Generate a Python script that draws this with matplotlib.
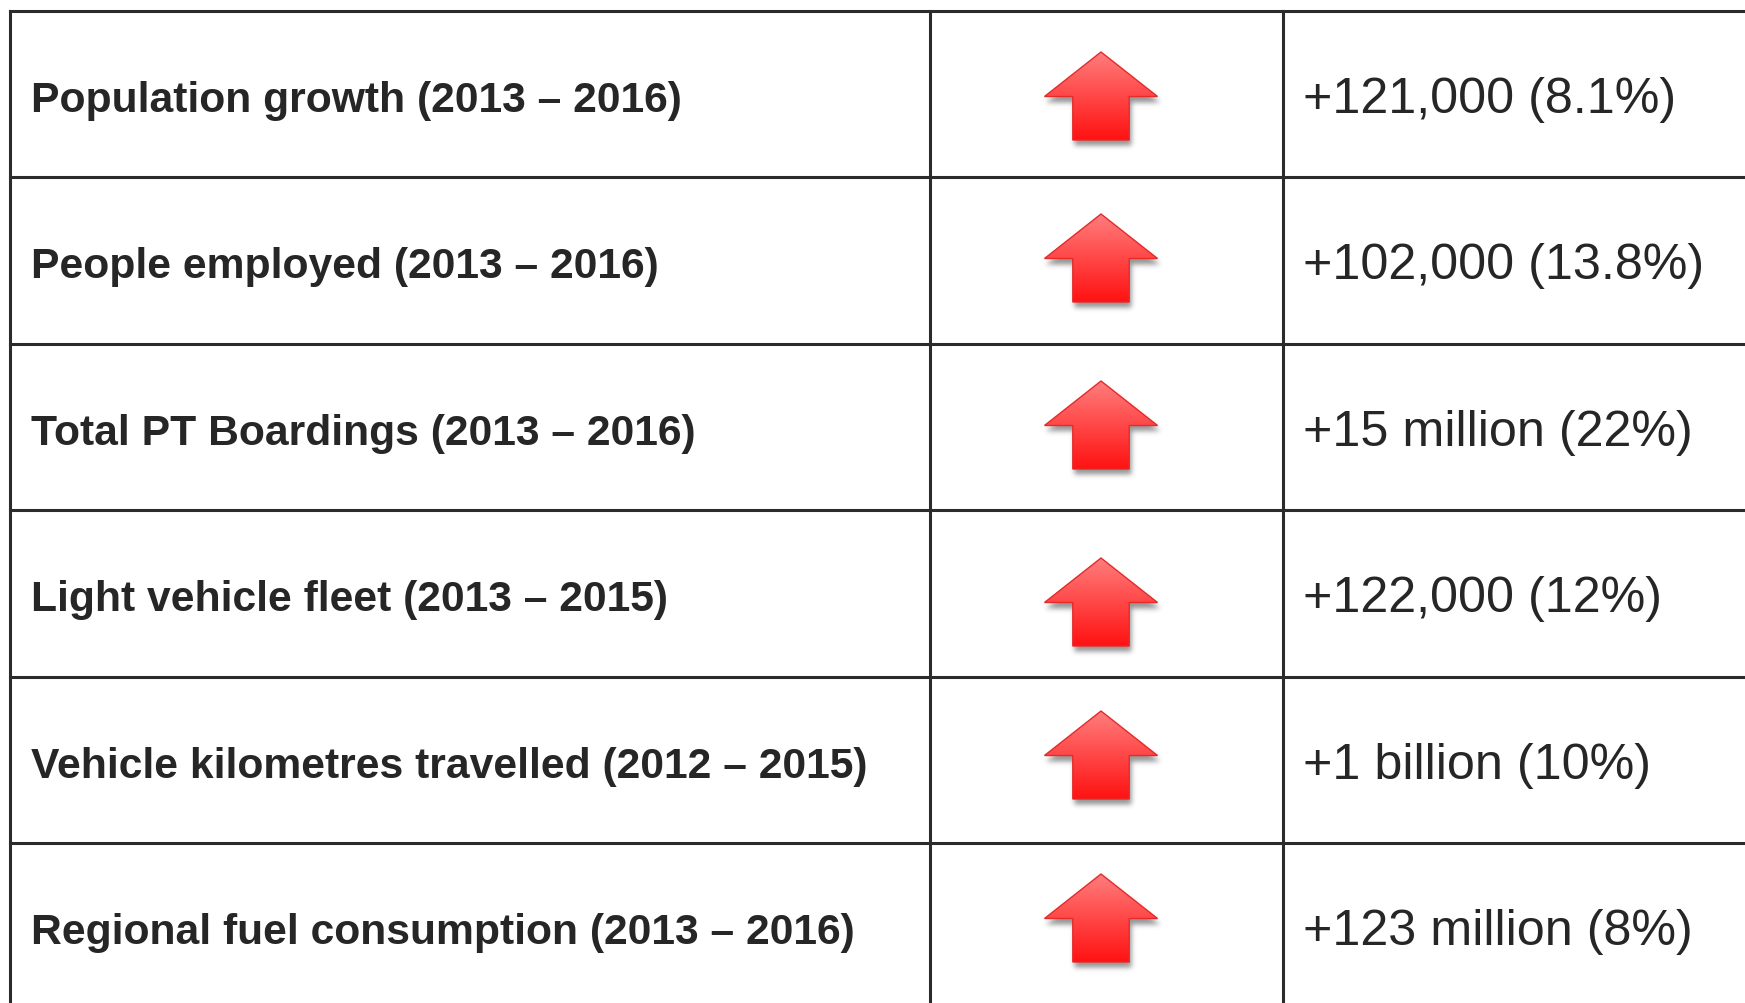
import numpy as np
import matplotlib
matplotlib.use('Agg')
import matplotlib.pyplot as plt
from matplotlib.patches import Polygon
from matplotlib.path import Path

# table contents
labels = ['Population growth (2013 \u2013 2016)',
          'People employed (2013 \u2013 2016)',
          'Total PT Boardings (2013 \u2013 2016)',
          'Light vehicle fleet (2013 \u2013 2015)',
          'Vehicle kilometres travelled (2012 \u2013 2015)',
          'Regional fuel consumption (2013 \u2013 2016)']
changes = ['+121,000 (8.1%)',
           '+102,000 (13.8%)',
           '+15 million (22%)',
           '+122,000 (12%)',
           '+1 billion (10%)',
           '+123 million (8%)']

# layout (pixel units of the 1745x1004 canvas)
W, H = 1745, 1004
top, row_h = 12, 166.4
x_left, x_col1, x_col2 = 10.5, 930, 1283
arrow_tops = [53, 215, 382, 559, 712, 875]   # tip of each arrow
arrow_cx = 1101
line_col = '#2b2b2b'
text_col = '#262626'

fig = plt.figure(figsize=(W / 100, H / 100), dpi=100)
ax = fig.add_axes([0, 0, 1, 1])
ax.set_xlim(0, W)
ax.set_ylim(H, 0)
ax.axis('off')

# grid lines
n = len(labels)
for i in range(n):
    y = top + i * row_h
    ax.plot([x_left, W + 5], [y, y], color=line_col, lw=2.2, solid_capstyle='projecting')
for x in (x_left, x_col1, x_col2):
    ax.plot([x, x], [top, H + 5], color=line_col, lw=2.2, solid_capstyle='projecting')


def arrow_shape(cx, ty):
    # up arrow: tip, wings, shaft
    return np.array([[cx, ty], [cx + 56.5, ty + 44.5], [cx + 28.2, ty + 44.5],
                     [cx + 28.2, ty + 88], [cx - 28.2, ty + 88], [cx - 28.2, ty + 44.5],
                     [cx - 56.5, ty + 44.5]])


def blur(img, s):
    k = np.exp(-0.5 * (np.arange(-3 * s, 3 * s + 1) / s) ** 2)
    k /= k.sum()
    img = np.apply_along_axis(lambda r: np.convolve(r, k, mode='same'), 1, img)
    return np.apply_along_axis(lambda c: np.convolve(c, k, mode='same'), 0, img)


for i in range(n):
    row_top = top + i * row_h
    ax.text(31, row_top + 100, labels[i], fontsize=30.7, fontweight='bold', color=text_col,
            family='Liberation Sans', va='baseline', ha='left')
    ax.text(1303, row_top + 101, changes[i], fontsize=36.2, color=text_col,
            family='Liberation Sans', va='baseline', ha='left')

    pts = arrow_shape(arrow_cx, arrow_tops[i])

    # soft drop shadow
    x0, x1 = arrow_cx - 75, arrow_cx + 75
    y0, y1 = arrow_tops[i] - 15, arrow_tops[i] + 115
    xs, ys = np.meshgrid(np.arange(x0, x1) + 0.5, np.arange(y0, y1) + 0.5)
    sh = Path(pts + [1.5, 5]).contains_points(np.c_[xs.ravel(), ys.ravel()])
    sh = blur(sh.reshape(xs.shape).astype(float), 2.5)
    rgba = np.zeros(sh.shape + (4,))
    rgba[..., :3] = 0.25
    rgba[..., 3] = sh * 0.55
    ax.imshow(rgba, extent=(x0, x1, y1, y0), interpolation='bilinear', zorder=2)

    # gradient fill clipped to the arrow
    poly = Polygon(pts, closed=True, facecolor='none', edgecolor='#e52a2a',
                   lw=1.0, zorder=4, joinstyle='miter')
    ax.add_patch(poly)
    grad = np.linspace(0, 1, 100).reshape(-1, 1)
    c_top = np.array([1.0, 0.49, 0.49])
    c_bot = np.array([1.0, 0.07, 0.07])
    g = c_top + (c_bot - c_top) * grad[..., None]
    g = np.repeat(g, 2, axis=1)
    im = ax.imshow(g, extent=(arrow_cx - 57, arrow_cx + 57, arrow_tops[i] + 88, arrow_tops[i]),
                   interpolation='bilinear', zorder=3, aspect='auto')
    im.set_clip_path(poly)

ax.set_xlim(0, W)
ax.set_ylim(H, 0)
fig.savefig('out.png', dpi=100, facecolor='white')
